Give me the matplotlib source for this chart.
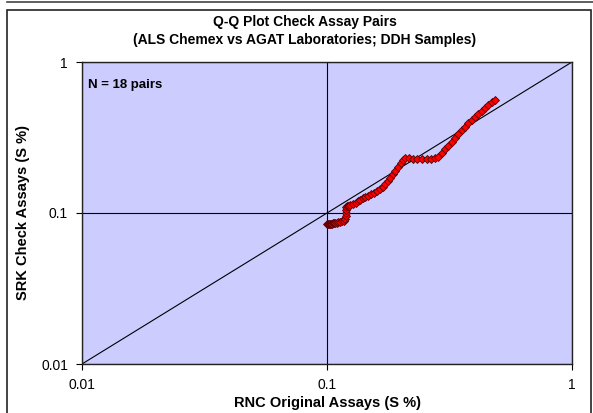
import matplotlib
matplotlib.use("Agg")
import matplotlib.pyplot as plt
from matplotlib.patches import Rectangle
from matplotlib.lines import Line2D
from matplotlib.ticker import FixedLocator, FixedFormatter

plt.rcParams['font.family'] = ['Liberation Sans', 'DejaVu Sans']

# quantile pairs (RNC original vs SRK check, S %)
rnc = [0.100, 0.101, 0.102, 0.103, 0.104, 0.105, 0.106, 0.107, 0.108, 0.110,
       0.111, 0.113, 0.115, 0.117,
       0.118, 0.119, 0.119, 0.120, 0.120, 0.121, 0.122, 0.123, 0.124,
       0.128, 0.131, 0.134, 0.137, 0.140, 0.143, 0.147, 0.151, 0.155, 0.160,
       0.165, 0.169,
       0.173, 0.177, 0.181, 0.186, 0.190, 0.195, 0.200, 0.204, 0.208,
       0.216, 0.225, 0.234, 0.245, 0.255, 0.265, 0.276,
       0.285, 0.294, 0.303, 0.313, 0.323, 0.333, 0.344, 0.355, 0.366, 0.378,
       0.390, 0.402, 0.415, 0.428, 0.441, 0.455, 0.470, 0.485]
srk = [0.085, 0.085, 0.085, 0.085, 0.085, 0.085, 0.086, 0.086, 0.086, 0.086,
       0.087, 0.087, 0.088, 0.089,
       0.091, 0.095, 0.100, 0.105, 0.109, 0.111, 0.112, 0.112, 0.113,
       0.115, 0.117, 0.120, 0.122, 0.125, 0.127, 0.130, 0.133, 0.136, 0.140,
       0.145, 0.149,
       0.155, 0.162, 0.170, 0.180, 0.191, 0.202, 0.213, 0.223, 0.230,
       0.230, 0.229, 0.229, 0.229, 0.229, 0.229, 0.230,
       0.236, 0.248, 0.264, 0.279, 0.297, 0.315, 0.334, 0.353, 0.373, 0.393,
       0.413, 0.432, 0.455, 0.476, 0.498, 0.519, 0.541, 0.560]

ticks = [0.01, 0.1, 1]
tick_labels = ['0.01', '0.1', '1']

W, H = 593, 413
fig = plt.figure(figsize=(W / 100, H / 100), dpi=100)

# outer chart frame (Excel style) and edge of the chart above
fig.patches.append(Rectangle((7 / W, -0.05), 584 / W, 1.05 - 10.5 / H,
                             transform=fig.transFigure, fill=False,
                             edgecolor='#222222', lw=1.2))
fig.lines.append(Line2D([7 / W, 1], [1 - 1.5 / H, 1 - 1.5 / H],
                        transform=fig.transFigure, color='#444444', lw=1.2))

ax = fig.add_axes([82 / W, 1 - 364 / H, 490 / W, 302 / H])
ax.set_facecolor('#CCCCFF')
ax.set_xscale('log')
ax.set_yscale('log')
ax.set_xlim(0.01, 1)
ax.set_ylim(0.01, 1)

ax.plot(ticks, ticks, color='black', lw=0.8, zorder=2)
ax.plot(rnc, srk, linestyle='none', marker='D', markersize=4.2,
        markerfacecolor='#FF0000', markeredgecolor='#550000',
        markeredgewidth=0.6, zorder=3)

for a in (ax.xaxis, ax.yaxis):
    a.set_major_locator(FixedLocator(ticks))
    a.set_major_formatter(FixedFormatter(tick_labels))
ax.minorticks_off()
ax.grid(True, which='major', color='black', lw=0.8, zorder=1)
ax.set_axisbelow(True)
ax.tick_params(direction='out', length=4, width=0.8, labelsize=10,
               colors='black', pad=6)
for s in ax.spines.values():
    s.set_linewidth(1.0)
    s.set_color('#222222')

ax.set_xlabel('RNC Original Assays (S %)', fontsize=10.5, fontweight='bold',
              labelpad=3)
ax.set_ylabel('SRK Check Assays (S %)', fontsize=10.5, fontweight='bold',
              labelpad=8)
fig.text(305 / W, 1 - 22 / H, 'Q-Q Plot Check Assay Pairs', ha='center',
         va='center', fontsize=10, fontweight='bold')
fig.text(305 / W, 1 - 40 / H, '(ALS Chemex vs AGAT Laboratories; DDH Samples)',
         ha='center', va='center', fontsize=10, fontweight='bold')
ax.text(0.012, 0.925, 'N = 18 pairs', transform=ax.transAxes, ha='left',
        va='center', fontsize=9.5, fontweight='bold')

fig.savefig('out.png', dpi=100)
